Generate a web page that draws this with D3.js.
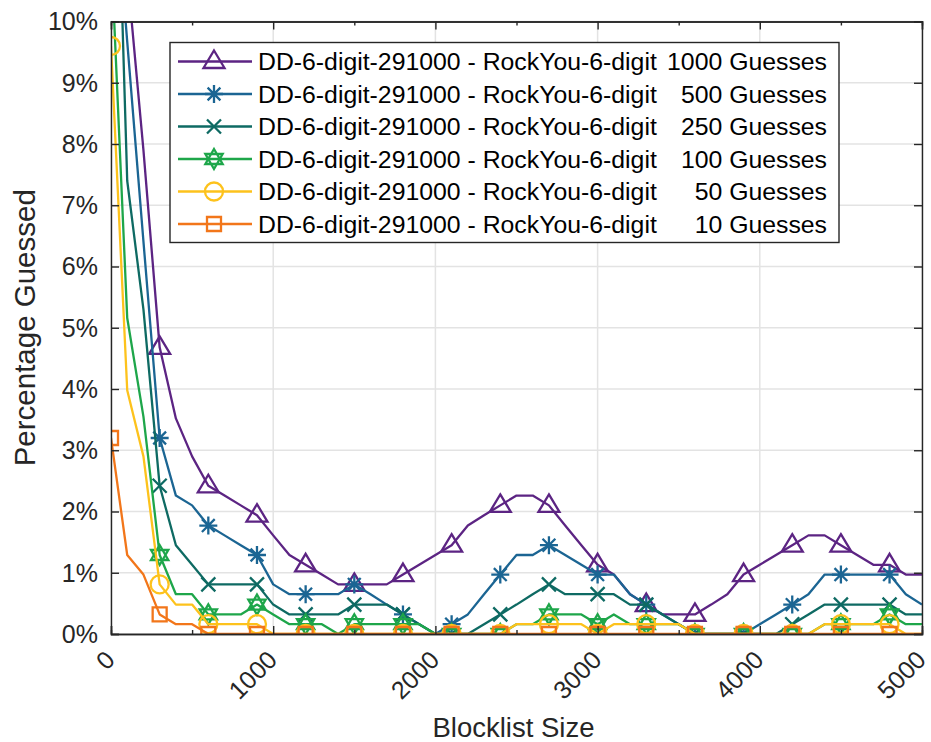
<!DOCTYPE html>
<html>
<head>
<meta charset="utf-8">
<script src="https://cdn.jsdelivr.net/npm/d3@7"></script>
<style>
  html, body { margin: 0; padding: 0; background: #fff; }
  svg { display: block; font-family: "Liberation Sans", Arial, Helvetica, sans-serif; }
  .tick-label { font-size: 25px; fill: #262626; }
  .axis-label { font-size: 27.5px; fill: #262626; }
  .legend-text { font-size: 24.8px; fill: #000; }
</style>
</head>
<body>
<div id="chart"></div>
<script>
// blocklist sizes (x) and where markers are drawn
var blocklistSizes = [0, 100, 200, 300, 400, 500, 600, 700, 800, 900,
    1000, 1100, 1200, 1300, 1400, 1500, 1600, 1700, 1800, 1900,
    2000, 2100, 2200, 2300, 2400, 2500, 2600, 2700, 2800, 2900,
    3000, 3100, 3200, 3300, 3400, 3500, 3600, 3700, 3800, 3900,
    4000, 4100, 4200, 4300, 4400, 4500, 4600, 4700, 4800, 4900, 5000];
var markerSizes = [0, 300, 600, 900, 1200, 1500, 1800, 2100, 2400, 2700, 3000, 3300, 3600, 3900, 4200, 4500, 4800];

// percentage guessed per series
var guesses1000 = [16.0, 10.8, 7.9, 4.68, 3.52, 2.9, 2.42, 2.26, 2.1, 1.94,
    1.61, 1.29, 1.13, 0.97, 0.81, 0.81, 0.81, 0.81, 0.97, 1.13,
    1.29, 1.45, 1.77, 1.94, 2.1, 2.26, 2.26, 2.1, 1.77, 1.45,
    1.13, 0.97, 0.65, 0.48, 0.32, 0.32, 0.32, 0.48, 0.65, 0.97,
    1.13, 1.29, 1.45, 1.61, 1.61, 1.45, 1.29, 1.13, 1.13, 0.97, 0.97];
var guesses500 = [13.0, 9.67, 6.41, 3.2, 2.26, 2.1, 1.77, 1.61, 1.45, 1.29,
    0.81, 0.65, 0.65, 0.65, 0.65, 0.81, 0.65, 0.48, 0.32, 0.16,
    0, 0.16, 0.32, 0.65, 0.97, 1.29, 1.29, 1.45, 1.29, 1.13,
    0.97, 0.97, 0.65, 0.48, 0.32, 0.16, 0, 0, 0, 0,
    0.16, 0.32, 0.48, 0.65, 0.97, 0.97, 0.97, 0.97, 0.97, 0.65, 0.48];
var guesses250 = [16.2, 7.4, 5.3, 2.42, 1.45, 1.13, 0.81, 0.81, 0.81, 0.81,
    0.48, 0.32, 0.32, 0.32, 0.32, 0.48, 0.48, 0.48, 0.32, 0.16,
    0, 0, 0, 0.16, 0.32, 0.48, 0.65, 0.81, 0.65, 0.65,
    0.65, 0.65, 0.48, 0.48, 0.32, 0.16, 0, 0, 0, 0,
    0, 0, 0.16, 0.32, 0.48, 0.48, 0.48, 0.48, 0.48, 0.32, 0.32];
var guesses100 = [11.2, 5.16, 3.55, 1.29, 0.65, 0.65, 0.32, 0.32, 0.32, 0.48,
    0.32, 0.16, 0.16, 0.16, 0, 0.16, 0.16, 0.16, 0.16, 0.16,
    0, 0, 0, 0, 0, 0.16, 0.16, 0.32, 0.32, 0.32,
    0.16, 0.32, 0.16, 0.16, 0.16, 0.16, 0, 0, 0, 0,
    0, 0, 0, 0, 0.16, 0.16, 0.16, 0.16, 0.32, 0.16, 0.16];
var guesses50 = [9.6, 3.98, 2.9, 0.81, 0.48, 0.48, 0.16, 0.16, 0.16, 0.16,
    0, 0, 0, 0, 0, 0, 0, 0, 0, 0,
    0, 0, 0, 0, 0, 0.16, 0.16, 0.16, 0.16, 0.16,
    0, 0.16, 0.16, 0.16, 0.16, 0.16, 0, 0, 0, 0,
    0, 0, 0, 0, 0.16, 0.16, 0.16, 0.16, 0.16, 0, 0];
var guesses10 = [3.2, 1.29, 0.97, 0.32, 0.16, 0.16, 0, 0, 0, 0,
    0, 0, 0, 0, 0, 0, 0, 0, 0, 0,
    0, 0, 0, 0, 0, 0, 0, 0, 0, 0,
    0, 0, 0, 0, 0, 0, 0, 0, 0, 0,
    0, 0, 0, 0, 0, 0, 0, 0, 0, 0, 0];

var seriesName = "DD-6-digit-291000 - RockYou-6-digit";
var guessCounts = ["1000", "500", "250", "100", "50", "10"];
var xTicks = [0, 1000, 2000, 3000, 4000, 5000];
var xMinorTicks = [500, 1500, 2500, 3500, 4500];
var yTicks = [0, 1, 2, 3, 4, 5, 6, 7, 8, 9, 10];

var series = [
    {values: guesses1000, color: "#5c2483", marker: "triangle"},
    {values: guesses500, color: "#1b6593", marker: "asterisk"},
    {values: guesses250, color: "#0e6a63", marker: "cross"},
    {values: guesses100, color: "#1ea64a", marker: "hexagram"},
    {values: guesses50, color: "#fdc21c", marker: "circle"},
    {values: guesses10, color: "#f2761a", marker: "square"}
];

function markerPath(type) {
    switch (type) {
        case "triangle": return "M0,-11L10.5,6.5L-10.5,6.5Z";
        case "asterisk": return "M0,-9V9M-9,0H9M-6.4,-6.4L6.4,6.4M-6.4,6.4L6.4,-6.4";
        case "cross": return "M-7,-7L7,7M-7,7L7,-7";
        case "hexagram": return "M0,-10L8.66,5L-8.66,5ZM0,10L8.66,-5L-8.66,-5Z";
        case "circle": return "M9,0A9,9 0 1,1 -9,0A9,9 0 1,1 9,0Z";
        case "square": return "M-7,-7H7V7H-7Z";
    }
}

var W = 931, H = 742;
var x = d3.scaleLinear().domain([0, 5000]).range([111, 922]);
var y = d3.scaleLinear().domain([0, 10]).range([634, 21.5]);

var svg = d3.select("#chart").append("svg")
    .attr("width", W)
    .attr("height", H);

svg.append("defs").append("clipPath")
    .attr("id", "plot-clip")
    .append("rect")
    .attr("x", x(0)).attr("y", y(10))
    .attr("width", x(5000) - x(0)).attr("height", y(0) - y(10));

// grid
var grid = svg.append("g").attr("class", "grid");
grid.selectAll("line.vgrid").data(xTicks).enter().append("line")
    .attr("x1", function (d) { return x(d); }).attr("x2", function (d) { return x(d); })
    .attr("y1", y(0)).attr("y2", y(10))
    .attr("stroke", "#e3e3e3").attr("stroke-width", 1.5);
grid.selectAll("line.hgrid").data(yTicks).enter().append("line")
    .attr("x1", x(0)).attr("x2", x(5000))
    .attr("y1", function (d) { return y(d); }).attr("y2", function (d) { return y(d); })
    .attr("stroke", "#e3e3e3").attr("stroke-width", 1.5);

// series
var line = d3.line()
    .x(function (d) { return x(d[0]); })
    .y(function (d) { return y(d[1]); });

var plot = svg.append("g").attr("clip-path", "url(#plot-clip)");
series.forEach(function (s) {
    var pts = blocklistSizes.map(function (b, i) { return [b, s.values[i]]; });
    plot.append("path")
        .datum(pts)
        .attr("fill", "none")
        .attr("stroke", s.color)
        .attr("stroke-width", 2.3)
        .attr("stroke-linejoin", "round")
        .attr("d", line);
    var marks = pts.filter(function (p) { return markerSizes.indexOf(p[0]) >= 0 && p[1] <= 10; });
    plot.selectAll(null).data(marks).enter().append("path")
        .attr("transform", function (p) { return "translate(" + x(p[0]) + "," + y(p[1]) + ")"; })
        .attr("d", markerPath(s.marker))
        .attr("fill", "none")
        .attr("stroke", s.color)
        .attr("stroke-width", 2.3);
});

// axes box
var axisColor = "#262626";
var xAxis = svg.append("g")
    .attr("transform", "translate(0," + y(0) + ")")
    .call(d3.axisBottom(x).tickValues(xTicks).tickSize(-8).tickFormat(""));
var xAxisTop = svg.append("g")
    .attr("transform", "translate(0," + y(10) + ")")
    .call(d3.axisTop(x).tickValues(xTicks).tickSize(-8).tickFormat(""));
var xMinor = svg.append("g")
    .attr("transform", "translate(0," + y(0) + ")")
    .call(d3.axisBottom(x).tickValues(xMinorTicks).tickSize(-4).tickFormat(""));
var xMinorTop = svg.append("g")
    .attr("transform", "translate(0," + y(10) + ")")
    .call(d3.axisTop(x).tickValues(xMinorTicks).tickSize(-4).tickFormat(""));
var yAxis = svg.append("g")
    .attr("transform", "translate(" + x(0) + ",0)")
    .call(d3.axisLeft(y).tickValues(yTicks).tickSize(-8).tickFormat(""));
var yAxisRight = svg.append("g")
    .attr("transform", "translate(" + x(5000) + ",0)")
    .call(d3.axisRight(y).tickValues(yTicks).tickSize(-8).tickFormat(""));
[xAxis, xAxisTop, xMinor, xMinorTop, yAxis, yAxisRight].forEach(function (g) {
    g.select(".domain").attr("stroke", axisColor).attr("stroke-width", 1.4);
    g.selectAll(".tick line").attr("stroke", axisColor).attr("stroke-width", 1.4);
});

// tick labels
svg.append("g").selectAll("text").data(yTicks).enter().append("text")
    .attr("class", "tick-label")
    .attr("x", x(0) - 13)
    .attr("y", function (d) { return y(d); })
    .attr("dy", "0.35em")
    .attr("text-anchor", "end")
    .text(function (d) { return d + "%"; });

svg.append("g").selectAll("text").data(xTicks).enter().append("text")
    .attr("class", "tick-label")
    .attr("text-anchor", "end")
    .attr("transform", function (d) { return "translate(" + (x(d) - 7) + "," + (y(0) + 15) + ") rotate(-45)"; })
    .attr("dy", "0.7em")
    .text(function (d) { return d; });

// axis titles
svg.append("text")
    .attr("class", "axis-label")
    .attr("text-anchor", "middle")
    .attr("x", (x(0) + x(5000)) / 2 - 3)
    .attr("y", 737)
    .text("Blocklist Size");
svg.append("text")
    .attr("class", "axis-label")
    .attr("text-anchor", "middle")
    .style("font-size", "29.5px")
    .attr("transform", "translate(35," + ((y(0) + y(10)) / 2) + ") rotate(-90)")
    .text("Percentage Guessed");

// legend
var legend = svg.append("g").attr("class", "legend");
legend.append("rect")
    .attr("x", 170).attr("y", 42.5)
    .attr("width", 669).attr("height", 200)
    .attr("fill", "#fff")
    .attr("stroke", axisColor)
    .attr("stroke-width", 1.4);
var rowH = 32.5;
var item = legend.selectAll("g.item").data(series).enter().append("g")
    .attr("class", "item")
    .attr("transform", function (d, i) { return "translate(0," + (61.5 + i * rowH) + ")"; });
item.append("line")
    .attr("x1", 178).attr("x2", 252)
    .attr("stroke", function (d) { return d.color; })
    .attr("stroke-width", 2.3);
item.append("path")
    .attr("transform", "translate(214,0)")
    .attr("d", function (d) { return markerPath(d.marker); })
    .attr("fill", "none")
    .attr("stroke", function (d) { return d.color; })
    .attr("stroke-width", 2.3);
item.append("text")
    .attr("class", "legend-text")
    .attr("x", 258).attr("dy", "0.36em")
    .text(seriesName);
item.append("text")
    .attr("class", "legend-text")
    .attr("x", 827).attr("dy", "0.36em")
    .attr("text-anchor", "end")
    .text(function (d, i) { return guessCounts[i] + " Guesses"; });
</script>
</body>
</html>
